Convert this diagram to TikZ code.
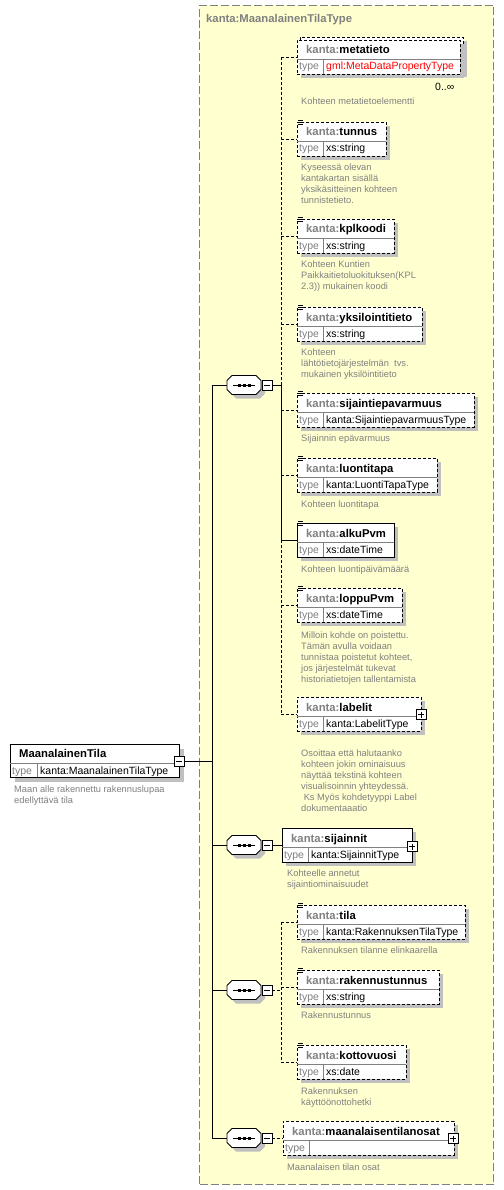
\documentclass[tikz,border=0pt]{standalone}
\usepackage{fontspec}
\setmainfont{Liberation Sans}
\definecolor{bg}{RGB}{255,255,208}
\definecolor{gr}{RGB}{128,128,128}
\definecolor{sh}{RGB}{192,192,192}
\newif\ifshd \shdtrue
\tikzset{
  dsh/.style={dash pattern=on 3pt off 2pt},
  outerdash/.style={dash pattern=on 8pt off 3pt},
  box/.style={draw, fill=white, minimum height=34pt, inner sep=0pt, outer sep=0pt, anchor=north west, line width=0.8pt},
  nm/.style={inner sep=0pt, anchor=base west, font=\fontsize{11.3}{13}\selectfont\bfseries},
  tp/.style={inner sep=0pt, anchor=base west, font=\fontsize{10.5}{12}\selectfont},
  ds/.style={inner sep=0pt, anchor=north west, font=\fontsize{9.3}{11}\selectfont, text=gr, align=left},
  pm/.style={draw, fill=white, minimum size=10pt, inner sep=0pt, outer sep=0pt, line width=0.8pt},
  conn/.style={line width=0.8pt}
}
% element box: name, x, top, width, border style, local name, type
\newcommand\xel[7]{%
  \ifshd\fill[sh] ({#2+4},{#3+4}) rectangle ({#2+#4+4},{#3+38});\fi
  \node[box,#5,minimum width=#4pt] (#1) at (#2,#3) {};
  \draw[gr,line width=0.8pt] (#2,{#3+19}) -- ({#2+#4},{#3+19});
  \draw[gr,line width=0.8pt] ({#2+26},{#3+19}) -- ({#2+26},{#3+34});
  \node[nm] (#1n) at ({#2+9},{#3+14}) {\textcolor{gr}{kanta:}#6};
  \node[tp,text=gr] (#1t) at ({#2+2},{#3+30}) {type};
  \node[tp] (#1v) at ({#2+29},{#3+30}) {#7};
}
\newcommand\icn[2]{%
  \draw[line width=0.7pt] ({#1+1},{#2-2}) -- ({#1+6},{#2-2}) ({#1+1},{#2}) -- ({#1+6},{#2}) ({#1+1},{#2+2}) -- ({#1+6},{#2+2});
}
\newcommand\pmbox[4]{%
  \node[pm] (#1) at (#2,#3) {};
  \draw[line width=0.8pt] ({#2-3},#3) -- ({#2+3},#3);
  \ifnum#4=1 \draw[line width=0.8pt] (#2,{#3-3}) -- (#2,{#3+3});\fi
}
\newcommand\octpath{(-12,-9.5) -- (12,-9.5) -- (17,-4.5) -- (17,4.5) -- (12,9.5) -- (-12,9.5) -- (-17,4.5) -- (-17,-4.5) -- cycle}
\newcommand\seqc[3]{%
  \node[inner sep=0pt, outer sep=0pt, minimum width=34pt, minimum height=19pt] (#1) at (#2,#3) {};
  \begin{scope}[shift={(#2,#3)}]
    \fill[sh,shift={(4,4)}] \octpath;
    \filldraw[fill=white,draw=black,line width=0.8pt] \octpath;
    \draw[line width=0.8pt] (-11,0) -- (11,0);
    \fill (-6.5,-1.5) rectangle (-3.5,1.5);
    \fill (-1.5,-1.5) rectangle (1.5,1.5);
    \fill (3.5,-1.5) rectangle (6.5,1.5);
  \end{scope}
  \pmbox{#1m}{#2+23}{#3}{0}
}
\begin{document}
\begin{tikzpicture}[x=1pt,y=-1pt]
\useasboundingbox (0,0) rectangle (503,1190);
\fill[white] (0,0) rectangle (503,1190);
% complex type frame
\node[draw=gr, outerdash, fill=bg, minimum width=294pt, minimum height=1179pt, anchor=north west, inner sep=0pt, line width=1pt] (ct) at (199,5) {};
\node[nm, text=gr] (cttitle) at (206,23) {kanta:MaanalainenTilaType};

% main element
\fill[sh] (15,749) rectangle (184,782);
\node[box, minimum width=169pt, minimum height=33pt] (main) at (10,744) {};
\draw[gr,line width=0.8pt] (10,763) -- (179,763);
\draw[gr,line width=0.8pt] (37,763) -- (37,777);
\node[nm] (mainn) at (19,757) {MaanalainenTila};
\node[tp,text=gr] (maint) at (12,774) {type};
\node[tp] (mainv) at (40,774) {kanta:MaanalainenTilaType};
\pmbox{mainm}{179}{761.5}{0}
\node[ds] (d0) at (14,786) {Maan alle rakennettu rakennuslupaa\\edellyttävä tila};
\coordinate (mj) at (212,761.5);

% sequences
\seqc{s1}{244}{385}
\seqc{s2}{244}{845}
\seqc{s3}{244}{990}
\seqc{s4}{244}{1138}
\coordinate (j1) at (281,385);
\coordinate (j3) at (281,990);

% main connectors
\draw[conn] (mainm.east) -- (mj);
\draw[conn] (s1.west -| mj) -- (s4.west -| mj);
\draw[conn] (s1.west -| mj) -- (s1.west);
\draw[conn] (s2.west -| mj) -- (s2.west);
\draw[conn] (s3.west -| mj) -- (s3.west);
\draw[conn] (s4.west -| mj) -- (s4.west);

% --- sequence 1 children ---
\fill[sh] (304,41) rectangle (467,77);
\node[box,dsh,minimum width=163pt] (metaback) at (300,37) {};
\fill[sh] (301,44) rectangle (464,78);
\shdfalse
\xel{metatieto}{297}{40}{163}{dsh}{metatieto}{\textcolor{red}{gml:MetaDataPropertyType}}
\shdtrue
\node[tp] (mult) at (435,91) {0..∞};
\node[ds] (d1) at (301,98) {Kohteen metatietoelementti};

\xel{tunnus}{297}{122}{89}{dsh}{tunnus}{xs:string}
\icn{297}{122}
\node[ds] (d2) at (301,164) {Kyseessä olevan\\kantakartan sisällä\\yksikäsitteinen kohteen\\tunnistetieto.};

\xel{kplkoodi}{297}{219}{97}{dsh}{kplkoodi}{xs:string}
\icn{297}{219}
\node[ds] (d3) at (301,261) {Kohteen Kuntien\\Paikkaitietoluokituksen(KPL\\2.3)) mukainen koodi};

\xel{yksil}{297}{307}{125}{dsh}{yksilointitieto}{xs:string}
\icn{297}{307}
\node[ds] (d4) at (301,349) {Kohteen\\lähtötietojärjestelmän\ \ tvs.\\mukainen yksilöintitieto};

\xel{sijep}{297}{393}{177}{dsh}{sijaintiepavarmuus}{kanta:SijaintiepavarmuusType}
\icn{297}{393}
\node[ds] (d5) at (301,435) {Sijainnin epävarmuus};

\xel{luonti}{297}{458}{140}{dsh}{luontitapa}{kanta:LuontiTapaType}
\icn{297}{458}
\node[ds] (d6) at (301,501) {Kohteen luontitapa};

\xel{alku}{297}{523}{97}{solid}{alkuPvm}{xs:dateTime}
\icn{297}{523}
\node[ds] (d7) at (301,566) {Kohteen luontipäivämäärä};

\xel{loppu}{297}{588}{105}{dsh}{loppuPvm}{xs:dateTime}
\icn{297}{588}
\node[ds] (d8) at (301,632) {Milloin kohde on poistettu.\\Tämän avulla voidaan\\tunnistaa poistetut kohteet,\\jos järjestelmät tukevat\\historiatietojen tallentamista};

\xel{labelit}{297}{697}{124}{dsh}{labelit}{kanta:LabelitType}
\pmbox{labelitp}{421}{714.5}{1}
\node[ds] (d9) at (301,750) {Osoittaa että halutaanko\\kohteen jokin ominaisuus\\näyttää tekstinä kohteen\\visualisoinnin yhteydessä.\\\ Ks Myös kohdetyyppi Label\\dokumentaaatio};

% seq1 connectors
\draw[conn,dsh] (metatieto.west -| j1) -- (j1);
\draw[conn] (j1) -- (alku.west -| j1);
\draw[conn,dsh] (alku.west -| j1) -- (labelit.west -| j1);
\draw[conn] (s1m.east) -- (j1);
\draw[conn,dsh] (metatieto.west -| j1) -- (metatieto.west);
\draw[conn,dsh] (tunnus.west -| j1) -- (tunnus.west);
\draw[conn,dsh] (kplkoodi.west -| j1) -- (kplkoodi.west);
\draw[conn,dsh] (yksil.west -| j1) -- (yksil.west);
\draw[conn,dsh] (sijep.west -| j1) -- (sijep.west);
\draw[conn,dsh] (luonti.west -| j1) -- (luonti.west);
\draw[conn] (alku.west -| j1) -- (alku.west);
\draw[conn,dsh] (loppu.west -| j1) -- (loppu.west);
\draw[conn,dsh] (labelit.west -| j1) -- (labelit.west);

% --- sequence 2 ---
\xel{sijainnit}{282}{828}{130}{solid}{sijainnit}{kanta:SijainnitType}
\pmbox{sijainnitp}{412}{846.5}{1}
\node[ds] (d10) at (287,870) {Kohteelle annetut\\sijaintiominaisuudet};
\draw[conn] (s2m.east) -- (sijainnit.west);

% --- sequence 3 ---
\xel{tila}{297}{905}{168}{dsh}{tila}{kanta:RakennuksenTilaType}
\icn{297}{905}
\node[ds] (d11) at (301,947) {Rakennuksen tilanne elinkaarella};

\xel{raktun}{297}{970}{142}{dsh}{rakennustunnus}{xs:string}
\icn{297}{970}
\node[ds] (d12) at (301,1012) {Rakennustunnus};

\xel{kotto}{297}{1045}{109}{dsh}{kottovuosi}{xs:date}
\icn{297}{1045}
\node[ds] (d13) at (301,1088) {Rakennuksen\\käyttöönottohetki};

\draw[conn,dsh] (s3m.east) -- (j3);
\draw[conn,dsh] (tila.west -| j3) -- (kotto.west -| j3);
\draw[conn,dsh] (tila.west -| j3) -- (tila.west);
\draw[conn,dsh] (raktun.west -| j3) -- (raktun.west);
\draw[conn,dsh] (kotto.west -| j3) -- (kotto.west);

% --- sequence 4 ---
\xel{osat}{283}{1121}{171}{dsh}{maanalaisentilanosat}{}
\pmbox{osatp}{453}{1138.5}{1}
\node[ds] (d14) at (287,1164) {Maanalaisen tilan osat};
\draw[conn,dsh] (s4m.east) -- (osat.west);
\end{tikzpicture}
\end{document}
